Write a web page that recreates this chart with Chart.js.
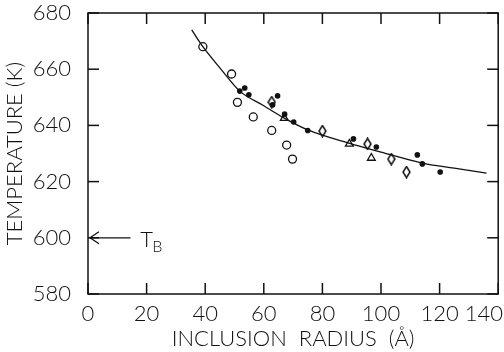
<!DOCTYPE html>
<html>
<head>
<meta charset="utf-8">
<script src="https://cdn.jsdelivr.net/npm/chart.js@4"></script>
<style>
  html, body { margin: 0; padding: 0; background: #fff; }
  #wrap { width: 504px; height: 352px; }
</style>
</head>
<body>
<div id="wrap"><canvas id="tempChart" width="504" height="352"></canvas></div>
<script>
// filled circles
const filledX = [51.8, 53.5, 54.9, 63.0, 64.7, 67.1, 70.2, 75.0, 90.6, 98.4, 112.4, 114.1, 120.2]
const filledY = [652.2, 653.3, 650.9, 647.3, 650.5, 644.0, 641.2, 638.2, 635.2, 632.3, 629.5, 626.3, 623.4]
// open circles
const openX = [39.2, 49.0, 51.0, 56.4, 62.7, 67.8, 69.8]
const openY = [668.0, 658.3, 648.2, 643.0, 638.2, 633.0, 628.0]
// open diamonds
const diamondX = [62.7, 80.0, 95.4, 103.5, 108.7]
const diamondY = [648.3, 638.0, 633.4, 628.0, 623.4]
// open triangles
const triangleX = [67.0, 89.2, 96.7]
const triangleY = [642.6, 633.4, 628.4]
// fitted curve
const curveX = [35.4, 39.2, 45.0, 51.8, 60.0, 67.0, 75.0, 89.0, 100.0, 114.0, 125.0, 136.0]
const curveY = [674.0, 668.0, 660.5, 652.2, 647.0, 642.6, 638.4, 633.7, 630.5, 626.6, 624.8, 623.0]

const xTicks = [0, 20, 40, 60, 80, 100, 120, 140]
const yTicks = [580, 600, 620, 640, 660, 680]

const toPoints = (xs, ys) => xs.map((x, i) => ({ x: x, y: ys[i] }))

const FONT = 'Lato, "Liberation Sans", sans-serif'
const WEIGHT = 300
const INK = '#111'

// narrow open diamond marker
const diamond = document.createElement('canvas')
diamond.width = 9
diamond.height = 13
{
  const d = diamond.getContext('2d')
  d.strokeStyle = INK
  d.lineWidth = 1.5
  d.beginPath()
  d.moveTo(4.5, 1)
  d.lineTo(8, 6.5)
  d.lineTo(4.5, 12)
  d.lineTo(1, 6.5)
  d.closePath()
  d.stroke()
}

const seg = (c, x0, y0, x1, y1) => {
  c.beginPath()
  c.moveTo(x0, y0)
  c.lineTo(x1, y1)
  c.stroke()
}

// box with inward ticks, x tick labels and the T_B arrow
const framePlugin = {
  id: 'frame',
  afterDraw(chart) {
    const c = chart.ctx
    const a = chart.chartArea
    const xs = chart.scales.x, ys = chart.scales.y
    const tl = 11
    c.save()
    c.strokeStyle = INK
    c.lineWidth = 1.5
    c.strokeRect(a.left, a.top, a.right - a.left, a.bottom - a.top)

    c.lineWidth = 1.5
    xTicks.forEach(v => {
      const p = xs.getPixelForValue(v)
      seg(c, p, a.bottom, p, a.bottom - tl)
      seg(c, p, a.top, p, a.top + tl)
    })
    yTicks.forEach(v => {
      const p = ys.getPixelForValue(v)
      seg(c, a.left, p, a.left + tl, p)
      seg(c, a.right, p, a.right - tl, p)
    })

    // x tick labels, last one kept inside the canvas
    c.fillStyle = INK
    c.font = WEIGHT + ' 22px ' + FONT
    c.textBaseline = 'alphabetic'
    xTicks.forEach((v, i) => {
      const p = xs.getPixelForValue(v)
      const last = i === xTicks.length - 1
      c.textAlign = last ? 'right' : 'center'
      c.fillText(String(v), last ? chart.width - 1 : p, a.bottom + 27)
    })

    // T_B arrow
    const yb = ys.getPixelForValue(600)
    const x0 = xs.getPixelForValue(0) + 2
    const x1 = xs.getPixelForValue(14.5)
    c.lineWidth = 1.3
    seg(c, x1, yb, x0, yb)
    c.beginPath()
    c.moveTo(x0 + 9, yb - 6); c.lineTo(x0, yb); c.lineTo(x0 + 9, yb + 6)
    c.stroke()
    c.textAlign = 'left'
    c.font = WEIGHT + ' 22px ' + FONT
    const tx = xs.getPixelForValue(17.8)
    c.fillText('T', tx, yb + 9)
    c.font = WEIGHT + ' 16px ' + FONT
    c.fillText('B', tx + 12, yb + 14)
    c.restore()
  }
}

const ctx = document.getElementById('tempChart').getContext('2d')

new Chart(ctx, {
  type: 'scatter',
  data: {
    datasets: [
      {
        label: 'filled',
        data: toPoints(filledX, filledY),
        pointStyle: 'circle',
        pointRadius: 2.8,
        backgroundColor: INK,
        borderColor: INK,
        borderWidth: 0,
        order: 0
      },
      {
        label: 'open',
        data: toPoints(openX, openY),
        pointStyle: 'circle',
        pointRadius: 4,
        backgroundColor: 'rgba(0,0,0,0)',
        borderColor: INK,
        borderWidth: 1.3,
        order: 1
      },
      {
        label: 'diamond',
        data: toPoints(diamondX, diamondY),
        pointStyle: diamond,
        order: 1
      },
      {
        label: 'triangle',
        data: toPoints(triangleX, triangleY),
        pointStyle: 'triangle',
        pointRadius: 4.5,
        backgroundColor: 'rgba(0,0,0,0)',
        borderColor: INK,
        borderWidth: 1.3,
        order: 1
      },
      {
        label: 'fit',
        type: 'line',
        data: toPoints(curveX, curveY),
        showLine: true,
        borderColor: INK,
        borderWidth: 1.3,
        pointRadius: 0,
        fill: false,
        cubicInterpolationMode: 'monotone',
        order: 2
      }
    ]
  },
  options: {
    responsive: false,
    animation: false,
    events: [],
    layout: {
      padding: { top: 13, right: 5, left: 0, bottom: 0 }
    },
    plugins: {
      legend: { display: false },
      tooltip: { enabled: false },
      title: { display: false }
    },
    scales: {
      x: {
        type: 'linear',
        min: 0,
        max: 140,
        grid: { display: false },
        border: { display: false },
        ticks: { display: false, stepSize: 20 },
        title: {
          display: true,
          text: 'INCLUSION  RADIUS  (Å)',
          color: INK,
          padding: { top: 0, bottom: 0 },
          font: { family: FONT, size: 22, weight: WEIGHT }
        },
        afterFit: s => {
          s.height = 58
          s.paddingLeft = 0
          s.paddingRight = 0
        }
      },
      y: {
        type: 'linear',
        min: 580,
        max: 680,
        grid: { display: false },
        border: { display: false },
        ticks: {
          stepSize: 20,
          color: INK,
          padding: 9,
          font: { family: FONT, size: 22, weight: WEIGHT }
        },
        title: {
          display: true,
          text: 'TEMPERATURE (K)',
          color: INK,
          padding: { top: 2, bottom: 0 },
          font: { family: FONT, size: 22, weight: WEIGHT }
        },
        afterFit: s => {
          s.width = 88
          s.paddingTop = 0
          s.paddingBottom = 0
        }
      }
    }
  },
  plugins: [framePlugin]
})
</script>
</body>
</html>
